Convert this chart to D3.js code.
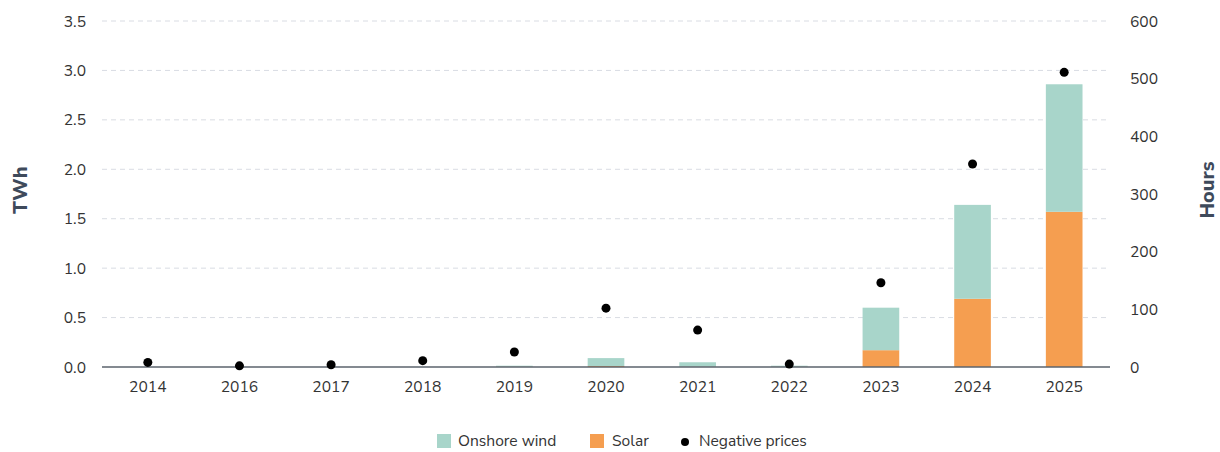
<!DOCTYPE html>
<html><head><meta charset="utf-8">
<script src="https://cdn.jsdelivr.net/npm/d3@7"></script>
<style>
body{margin:0;background:#fff;}
svg text{font-family:"Nunito Sans","Lato","Open Sans",sans-serif;}
</style></head>
<body><svg id="c" width="1220" height="452"></svg>
<script>
const years = ["2014","2016","2017","2018","2019","2020","2021","2022","2023","2024","2025"];
const solar = [0,0,0,0,0.003,0.01,0.003,0.003,0.17,0.69,1.57];
const wind  = [0,0,0,0,0.01,0.08,0.045,0.01,0.43,0.95,1.29];
const negHours = [8,2,4,11,26,102,64,5,146,352,511];
const leftTicks = [0,0.5,1.0,1.5,2.0,2.5,3.0,3.5];
const rightTicks = [0,100,200,300,400,500,600];

const svg = d3.select("#c");
const L=102,R=1110,T=21,B=367;
const FS=15.6;
const x = d3.scaleBand().domain(years).range([L,R]).paddingInner(0.6).paddingOuter(0.3);
const y = d3.scaleLinear().domain([0,3.5]).range([B,T]);
const y2 = d3.scaleLinear().domain([0,600]).range([B,T]);
const cWind="#a8d5ca", cSolar="#f59e50";

// grid
svg.append("g").selectAll("line").data(leftTicks.slice(1)).join("line")
 .attr("x1",L).attr("x2",R).attr("y1",d=>y(d)).attr("y2",d=>y(d))
 .attr("stroke","#d9dce3").attr("stroke-dasharray","5,4").attr("stroke-width",1);

// left axis
const ga = svg.append("g").attr("transform",`translate(${L},0)`)
 .call(d3.axisLeft(y).tickValues(leftTicks).tickFormat(d3.format(".1f")).tickSize(0).tickPadding(16));
ga.select(".domain").remove();
ga.selectAll("text").attr("font-size",FS).attr("fill","#333");
const gr = svg.append("g").attr("transform",`translate(${R},0)`)
 .call(d3.axisRight(y2).tickValues(rightTicks).tickSize(0).tickPadding(20));
gr.select(".domain").remove();
gr.selectAll("text").attr("font-size",FS).attr("fill","#333");

// bars
const data = years.map((yr,i)=>({yr,s:solar[i],w:wind[i],n:negHours[i]}));
svg.append("g").selectAll("rect").data(data).join("rect")
 .attr("x",d=>x(d.yr)).attr("width",x.bandwidth())
 .attr("y",d=>y(d.s)).attr("height",d=>B-y(d.s)).attr("fill",cSolar);
svg.append("g").selectAll("rect").data(data).join("rect")
 .attr("x",d=>x(d.yr)).attr("width",x.bandwidth())
 .attr("y",d=>y(d.s+d.w)).attr("height",d=>y(d.s)-y(d.s+d.w)).attr("fill",cWind);

// x axis
const gx = svg.append("g").attr("transform",`translate(0,${B})`)
 .call(d3.axisBottom(x).tickSize(0).tickPadding(14));
gx.select(".domain").attr("stroke","#5b636c").attr("stroke-width",1.5).attr("d",`M${L},0H${R}`);
gx.selectAll("text").attr("font-size",FS).attr("fill","#333");

// dots
svg.append("g").selectAll("circle").data(data).join("circle")
 .attr("cx",d=>x(d.yr)+x.bandwidth()/2).attr("cy",d=>y2(d.n)).attr("r",4.5).attr("fill","#000");

// axis titles
svg.append("text").attr("transform","translate(27,190) rotate(-90)").attr("text-anchor","middle")
 .attr("font-size",20).attr("font-weight","800").attr("fill","#3e4a5b").text("TWh");
svg.append("text").attr("transform","translate(1214,190) rotate(-90)").attr("text-anchor","middle")
 .attr("font-size",20).attr("font-weight","800").attr("fill","#3e4a5b").text("Hours");

// legend
const lg = svg.append("g");
lg.append("rect").attr("x",437).attr("y",434).attr("width",14).attr("height",14).attr("fill",cWind);
lg.append("text").attr("x",458).attr("y",446).attr("font-size",FS).attr("fill","#333").text("Onshore wind");
lg.append("rect").attr("x",590).attr("y",434).attr("width",14).attr("height",14).attr("fill",cSolar);
lg.append("text").attr("x",612).attr("y",446).attr("font-size",FS).attr("fill","#333").text("Solar");
lg.append("circle").attr("cx",685).attr("cy",442).attr("r",4).attr("fill","#000");
lg.append("text").attr("x",699).attr("y",446).attr("font-size",FS).attr("fill","#333").text("Negative prices");
</script></body></html>
